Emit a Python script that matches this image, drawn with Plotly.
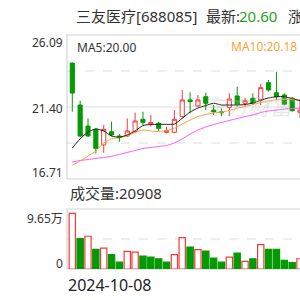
import plotly.graph_objects as go

# ---------------- data ----------------
idx = list(range(30))
opens  = [24.26, 21.53, 20.16, 19.95, 18.93, 19.79, 19.51, 19.51, 19.79, 20.60,
          20.29, 20.34, 19.75, 19.75, 20.77, 21.86, 21.47, 22.07, 21.20, 21.09,
          21.38, 22.12, 21.64, 21.97, 21.86, 22.98, 22.33, 22.18, 21.97, 21.05]
highs  = [24.30, 21.81, 20.66, 20.01, 20.23, 20.44, 19.64, 20.66, 21.03, 21.09,
          20.88, 20.44, 20.12, 21.20, 22.51, 22.36, 22.18, 22.33, 21.53, 21.31,
          22.29, 22.72, 22.01, 22.29, 22.90, 23.16, 23.70, 22.29, 22.05, 21.90]
lows   = [21.10, 19.45, 19.45, 18.38, 18.42, 19.50, 19.14, 19.45, 19.70, 20.23,
          20.12, 19.84, 19.69, 19.69, 20.70, 20.99, 21.40, 21.20, 20.88, 20.81,
          20.81, 21.42, 21.42, 21.53, 21.53, 22.40, 21.86, 21.50, 21.10, 20.70]
closes = [22.31, 19.51, 19.51, 18.71, 19.95, 19.58, 19.40, 19.84, 20.49, 20.40,
          20.38, 20.01, 19.86, 20.60, 21.86, 21.75, 21.86, 21.64, 21.09, 21.03,
          21.92, 21.58, 21.81, 21.64, 22.66, 22.51, 22.07, 21.58, 21.16, 21.20]
ma5  = [18.73, 19.32, 19.77, 19.97, 19.84, 19.51, 19.43, 19.58, 19.84, 20.19,
        20.26, 20.27, 20.27, 20.29, 20.66, 21.07, 21.33, 21.50, 21.64, 21.53,
        21.53, 21.53, 21.56, 21.66, 21.84, 21.99, 22.07, 22.07, 21.95, 21.81]
ma10 = [17.61, 17.88, 18.21, 18.53, 19.06, 19.32, 19.41, 19.51, 19.74, 19.90,
        19.84, 19.80, 19.87, 20.01, 20.29, 20.55, 20.78, 20.91, 21.01, 21.07,
        21.17, 21.32, 21.43, 21.56, 21.69, 21.79, 21.86, 21.89, 21.89, 21.86]
ma20 = [17.82, 17.91, 17.98, 18.05, 18.11, 18.19, 18.31, 18.44, 18.57, 18.70,
        18.76, 18.83, 18.89, 19.06, 19.32, 19.64, 19.90, 20.10, 20.26, 20.39,
        20.52, 20.65, 20.78, 20.88, 21.04, 21.14, 21.20, 21.27, 21.30, 21.32]
volumes = [8.95, 4.90, 5.27, 3.16, 3.37, 2.30, 1.10, 2.84, 2.73, 2.08,
           1.91, 1.65, 1.10, 2.30, 5.06, 3.54, 3.11, 2.89, 1.75, 1.10,
           1.91, 2.56, 1.22, 1.65, 3.92, 3.16, 3.16, 1.38, 1.01, 1.65]
vol_up = [1, 0, 1, 0, 1, 0, 0, 1, 1, 0, 0, 0, 0, 1, 1, 0, 1, 0, 0, 0,
          1, 0, 1, 0, 1, 0, 0, 0, 0, 1]
price_min, price_max = 16.71, 26.09
vol_max = 9.65
price_ticks = ["26.09", "21.40", "16.71"]
vol_ticks = ["9.65万", "0"]
title_name = "三友医疗[688085]"
latest = "20.60"
ma5_label = "MA5:20.00"
ma10_label = "MA10:20.18"
vol_label = "成交量:20908"
date_label = "2024-10-08"

RED = "#f23a3a"
GREEN = "#049a04"
ORANGE = "#f7a53a"
MAGENTA = "#ff55ff"
DARK = "#333333"
GRID = "#dcdcdc"
FONT = "Noto Sans, Noto Sans CJK SC, sans-serif"

W = H = 300
def px(x): return x / W
def py(y): return 1 - y / H

fig = go.Figure()

fig.add_trace(go.Candlestick(
    x=idx, open=opens, high=highs, low=lows, close=closes,
    increasing=dict(line=dict(color=RED, width=1), fillcolor="white"),
    decreasing=dict(line=dict(color=GREEN, width=1), fillcolor=GREEN),
    whiskerwidth=0, xaxis="x", yaxis="y", showlegend=False, hoverinfo="skip"))

for vals, col in [(ma20, MAGENTA), (ma10, ORANGE), (ma5, "#222222")]:
    fig.add_trace(go.Scatter(x=idx, y=vals, mode="lines",
                             line=dict(color=col, width=1, shape="spline", smoothing=0.6),
                             xaxis="x", yaxis="y", showlegend=False, hoverinfo="skip"))

fig.add_trace(go.Bar(
    x=idx, y=volumes, width=0.8,
    marker=dict(color=["white" if u else GREEN for u in vol_up],
                line=dict(color=[RED if u else GREEN for u in vol_up], width=1.2)),
    xaxis="x2", yaxis="y2", showlegend=False, hoverinfo="skip"))

xr = [-0.675, 29.0]
main_dom = [py(179), py(35)]
vol_dom = [py(269), py(209)]
ax_common = dict(showgrid=False, zeroline=False, showticklabels=False, showline=False,
                 fixedrange=True, ticks="")
fig.update_layout(
    width=W, height=H, margin=dict(l=0, r=0, t=0, b=0),
    paper_bgcolor="white", plot_bgcolor="white",
    boxgap=0.25,
    bargap=0.2,
    xaxis=dict(domain=[px(67), 1], range=xr, rangeslider=dict(visible=False), **ax_common),
    yaxis=dict(domain=main_dom, range=[price_min, price_max], **ax_common),
    xaxis2=dict(domain=[px(67), 1], range=xr, anchor="y2", **ax_common),
    yaxis2=dict(domain=vol_dom, range=[0, vol_max], **ax_common),
)

shapes = []
# grid lines
for k, dash in [(1, "dash"), (2, "solid"), (3, "dash")]:
    yv = price_min + (price_max - price_min) * k / 4
    shapes.append(dict(type="line", xref="paper", yref="y", x0=px(67), x1=1, y0=yv, y1=yv,
                       line=dict(color=GRID, width=1, dash=dash), layer="below"))
shapes.append(dict(type="line", xref="paper", yref="y2", x0=px(67), x1=1,
                   y0=vol_max / 2, y1=vol_max / 2,
                   line=dict(color=GRID, width=1, dash="dash"), layer="below"))
# panel borders
for dom in (main_dom, vol_dom):
    shapes.append(dict(type="rect", xref="paper", yref="paper", x0=px(67), x1=1.02,
                       y0=dom[0], y1=dom[1], line=dict(color="#d4d4d4", width=1.2),
                       fillcolor="rgba(0,0,0,0)", layer="below"))
fig.update_layout(shapes=shapes)

ann = []
def text(x, y, s, size, color=DARK, xanchor="left", yanchor="middle", xref="paper", yref="paper"):
    ann.append(dict(x=x, y=y, text=s, showarrow=False, xref=xref, yref=yref,
                    xanchor=xanchor, yanchor=yanchor,
                    font=dict(family=FONT, size=size, color=color)))

# faint watermark (drawn first, under the labels)
ann.append(dict(x=px(297), y=py(106), text="<i>东方财富</i>", showarrow=False,
                xref="paper", yref="paper", xanchor="right", yanchor="middle",
                font=dict(family=FONT, size=22, color="rgba(190,190,190,0.35)")))
text(px(74), py(16), title_name, 15)
text(px(204), py(16), "最新:", 15)
text(px(237), py(16), latest, 15, color="#1fa21f")
text(px(286), py(16), "涨幅", 15)
text(px(75), py(47), ma5_label, 12)
text(px(299), py(46), ma10_label, 12, color=ORANGE, xanchor="right")
text(px(65), py(43), price_ticks[0], 12, xanchor="right")
text(px(65), py(108), price_ticks[1], 12, xanchor="right")
text(px(65), py(172), price_ticks[2], 12, xanchor="right")
text(px(68), py(193), vol_label, 15)
text(px(65), py(218), vol_ticks[0], 12, xanchor="right")
text(px(65), py(263), vol_ticks[1], 12, xanchor="right")
text(px(66), py(285), date_label, 16, color="#222222")
fig.update_layout(annotations=ann)

fig.write_html("out.html")
